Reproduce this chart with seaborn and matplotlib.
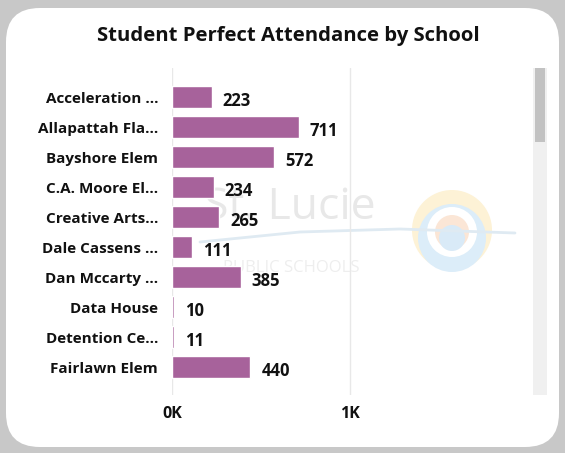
import numpy as np
import pandas as pd
import matplotlib.pyplot as plt
import seaborn as sns
from matplotlib.patches import FancyBboxPatch, Rectangle, Circle

schools = ["Acceleration ...", "Allapattah Fla...", "Bayshore Elem", "C.A. Moore El...",
           "Creative Arts...", "Dale Cassens ...", "Dan Mccarty ...", "Data House",
           "Detention Ce...", "Fairlawn Elem"]
attendance = [223, 711, 572, 234, 265, 111, 385, 10, 11, 440]
x_ticks = [0, 1000]
x_tick_labels = ["0K", "1K"]

df = pd.DataFrame({"school": schools, "attendance": attendance})

sns.set_theme(style="white")
plt.rcParams['font.family'] = ['Open Sans', 'DejaVu Sans']

W, H = 565, 453
fig = plt.figure(figsize=(W / 100, H / 100), dpi=100)
fig.patch.set_facecolor("#c8c8c8")

# white card with rounded corners
card = FancyBboxPatch((6 / W, 6 / H), (W - 12) / W, (H - 14) / H,
                      boxstyle="round,pad=0,rounding_size=0.06",
                      transform=fig.transFigure, facecolor="white", edgecolor="none",
                      mutation_aspect=W / H, zorder=-10)
fig.patches.append(card)

fig.text(288 / W, 1 - 36 / H, "Student Perfect Attendance by School",
         ha="center", va="center", fontsize=14.6, fontweight="bold", color="#111111")

# faint watermark (St. Lucie Public Schools logo in the background)
wm = fig.add_axes([0, 0, 1, 1], zorder=-1)
wm.set_xlim(0, W)
wm.set_ylim(H, 0)
wm.axis("off")
wm.text(290, 208, "St. Lucie", fontsize=32, color="#e8e8e8", ha="center", va="center")
wm.text(291, 268, "PUBLIC SCHOOLS", fontsize=12, color="#eeeeee", ha="center", va="center")
wm.add_patch(Circle((452, 230), 40, facecolor="#fdf2d6", edgecolor="none"))
wm.add_patch(Circle((452, 238), 34, facecolor="#dcedf9", edgecolor="none"))
wm.add_patch(Circle((452, 232), 25, facecolor="#ffffff", edgecolor="none"))
wm.add_patch(Circle((452, 232), 17, facecolor="#fbe6d6", edgecolor="none"))
wm.add_patch(Circle((452, 238), 13, facecolor="#d9eaf7", edgecolor="none"))
wm.plot([200, 300, 400, 515], [242, 232, 229, 233], color="#dfeaf2", lw=2)

ax = fig.add_axes([172 / W, 58 / H, 353 / W, 327 / H], zorder=1)
ax.set_facecolor("none")

sns.barplot(data=df, x="attendance", y="school", color="#a7629b", saturation=1,
            width=0.73, orient="h", ax=ax, zorder=3)

for c in ax.containers:
    labels = ax.bar_label(c, padding=8, fontsize=12, fontweight="bold", color="#111111")
    for t in labels:
        t.xyann = (8, -3)

ax.set_xlim(0, 1983)
ax.set_ylim(9.93, -0.97)
ax.set_xticks(x_ticks)
ax.set_xticklabels(x_tick_labels, fontsize=11.5, fontweight="bold", color="#111111")
ax.tick_params(axis="x", length=0, pad=8)
ax.tick_params(axis="y", length=0, pad=10, labelsize=11)
for t in ax.get_yticklabels():
    t.set_fontweight("bold")
    t.set_color("#111111")
ax.grid(axis="x", color="#e8e8e8", lw=1, zorder=0)
ax.set_xlabel("")
ax.set_ylabel("")
for s in ax.spines.values():
    s.set_visible(False)

# scrollbar
fig.patches.append(Rectangle((533 / W, 1 - 395 / H), 14 / W, 327 / H,
                             transform=fig.transFigure, facecolor="#f0f0f0", edgecolor="none"))
fig.patches.append(Rectangle((535 / W, 1 - 142 / H), 10 / W, 74 / H,
                             transform=fig.transFigure, facecolor="#c2c2c2", edgecolor="none"))

plt.savefig("out.png", dpi=100, facecolor=fig.get_facecolor())
